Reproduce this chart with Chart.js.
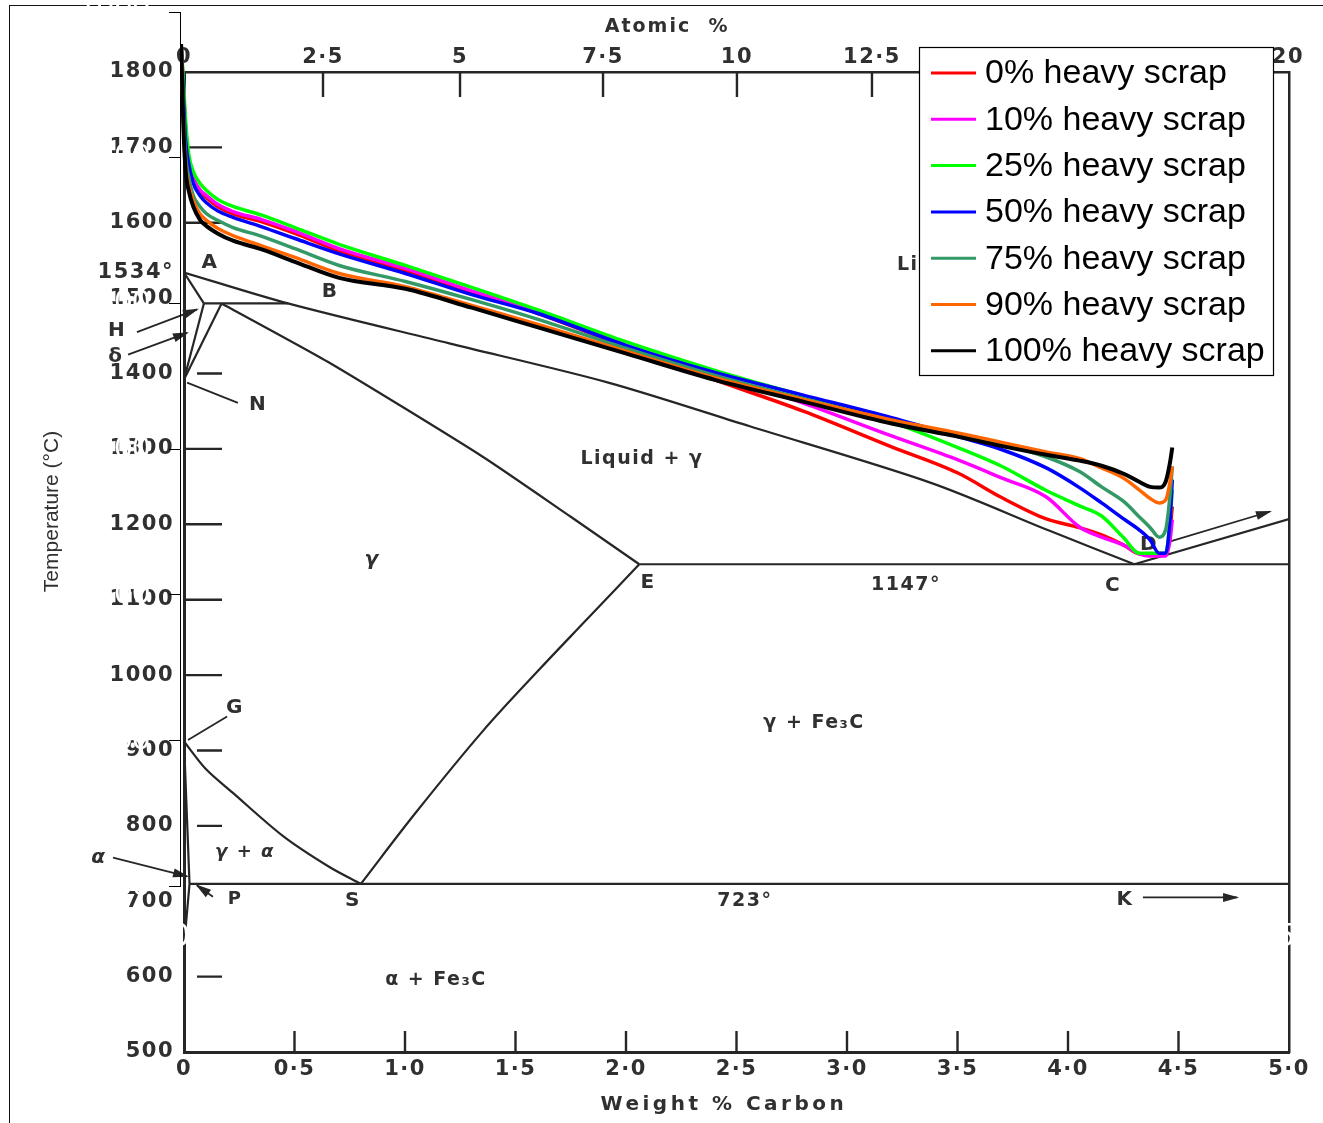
<!DOCTYPE html>
<html lang="en">
<head>
<meta charset="utf-8">
<title>Fe–C diagram with heavy scrap paths</title>
<script src="https://cdn.jsdelivr.net/npm/chart.js@4.4.1/dist/chart.umd.min.js"></script>
<style>
  html, body { margin: 0; padding: 0; background: #ffffff; }
  #wrap { position: relative; width: 1323px; height: 1123px; overflow: hidden; }
  #frame { position: absolute; left: 9px; top: 5px; width: 1400px; height: 1300px; border: 1px solid #111; }
  canvas { position: absolute; left: 0; top: 0; }
</style>
</head>
<body>
<div id="wrap">
  <div id="frame"></div>
  <canvas id="diagram" width="1323" height="1123"></canvas>
  <canvas id="scrap" width="1323" height="1123"></canvas>
</div>
<script>
// ---------- Fe–C equilibrium diagram (weight % carbon, °C) ----------
const weightTicks = [0, 0.5, 1, 1.5, 2, 2.5, 3, 3.5, 4, 4.5, 5];
const tempTicks = [500, 600, 700, 800, 900, 1000, 1100, 1200, 1300, 1400, 1500, 1534, 1600, 1700, 1800];
const atomicLabels = ['0', '2·5', '5', '7·5', '10', '12·5', '15', '17·5', '20'];
const atomicAtWeight = [0, 0.629, 1.249, 1.896, 2.502, 3.113, 3.72, 4.35, 4.995];
const tempMarksLong = [1000, 1100, 1200, 1300, 1600, 1700];
const tempMarksShort = [600, 800, 900, 1400];

const liquidusC = [0, 0.47, 1.2, 1.92, 2.56, 3.38, 3.92, 4.3];
const liquidusT = [1534, 1493, 1440, 1388, 1330, 1255, 1191, 1147];
const deltaSolidusC = [0, 0.09];        const deltaSolidusT = [1534, 1493];
const peritecticC = [0.09, 0.47];       const peritecticT = [1493, 1493];
const deltaNHC = [0, 0.09];             const deltaNHT = [1392, 1493];
const deltaNJC = [0, 0.17];             const deltaNJT = [1392, 1493];
const gammaSolidusC = [0.17, 0.66, 1.35, 1.75, 2.06];
const gammaSolidusT = [1493, 1414, 1290, 1210, 1147];
const eutecticC = [2.06, 5];            const eutecticT = [1147, 1147];
const cementiteLiqC = [4.3, 5];         const cementiteLiqT = [1147, 1207];
const eutectoidC = [0.025, 5];          const eutectoidT = [723, 723];
const a3C = [0, 0.1, 0.22, 0.45, 0.66, 0.8];
const a3T = [912, 875, 844, 786, 745, 723];
const acmC = [0.8, 1.05, 1.35, 1.6, 1.82, 2.06];
const acmT = [723, 818, 925, 1005, 1073, 1147];
const ferriteGPC = [0, 0.025];          const ferriteGPT = [912, 723];
const ferritePQC = [0.025, 0];          const ferritePQT = [723, 640];

// leader lines for the point letters
const leaderH = [[-0.213, 1455], [0.059, 1485]];
const leaderDelta = [[-0.253, 1425], [0.014, 1454]];
const leaderN = [[0.014, 1388], [0.244, 1361]];
const leaderG = [[0.018, 914], [0.195, 945]];
const leaderAlpha = [[-0.321, 758], [0.014, 733]];
const leaderP = [[0.131, 706], [0.059, 721]];
const leaderK = [[4.339, 705], [4.765, 705]];
const leaderD = [[4.448, 1176], [4.914, 1217]];

// ---------- cooling paths for the scrap mixes (wt % C, °C) ----------
const carbonGrid = [0.005, 0.015, 0.025, 0.04, 0.06, 0.09, 0.12, 0.17, 0.24, 0.37, 0.52, 0.72, 1.02, 1.32, 1.62,
  2.02, 2.42, 2.82, 3.22, 3.52, 3.72, 3.92, 4.07, 4.17, 4.27, 4.34, 4.39, 4.43, 4.46, 4.48, 4.49];
const scrapLabels = ['0% heavy scrap', '10% heavy scrap', '25% heavy scrap', '50% heavy scrap',
  '75% heavy scrap', '90% heavy scrap', '100% heavy scrap'];
const scrap0 = [1856, 1797, 1739, 1695, 1670, 1654, 1645, 1633, 1623, 1612, 1596, 1572, 1545, 1515, 1486,
  1440, 1395, 1352, 1303, 1267, 1233, 1204, 1192, 1182, 1168, 1156, 1155, 1155, 1155, 1189, 1221];
const scrap10 = [1856, 1801, 1742, 1698, 1673, 1656, 1648, 1636, 1626, 1615, 1599, 1575, 1548, 1517, 1489,
  1442, 1403, 1363, 1318, 1285, 1260, 1234, 1193, 1179, 1168, 1156, 1153, 1153, 1153, 1175, 1203];
const scrap25 = [1856, 1808, 1753, 1704, 1681, 1665, 1655, 1643, 1633, 1621, 1604, 1581, 1552, 1522, 1491,
  1447, 1408, 1373, 1337, 1302, 1276, 1243, 1222, 1208, 1178, 1157, 1157, 1157, 1157, 1203, 1244];
const scrap50 = [1856, 1787, 1725, 1691, 1665, 1648, 1638, 1627, 1618, 1605, 1589, 1568, 1541, 1512, 1486,
  1442, 1405, 1374, 1343, 1317, 1299, 1274, 1247, 1226, 1204, 1189, 1175, 1157, 1157, 1203, 1258];
const scrap75 = [1856, 1766, 1704, 1673, 1648, 1633, 1623, 1614, 1604, 1592, 1575, 1552, 1530, 1505, 1478,
  1438, 1401, 1369, 1339, 1321, 1307, 1289, 1269, 1248, 1228, 1207, 1192, 1179, 1189, 1237, 1276];
const scrap90 = [1856, 1753, 1691, 1662, 1641, 1623, 1614, 1603, 1593, 1579, 1563, 1541, 1523, 1497, 1471,
  1434, 1398, 1368, 1340, 1322, 1309, 1296, 1287, 1274, 1260, 1244, 1232, 1226, 1230, 1255, 1276];
const scrap100 = [1856, 1746, 1684, 1654, 1633, 1615, 1606, 1596, 1586, 1574, 1557, 1535, 1520, 1494, 1467,
  1431, 1395, 1365, 1335, 1317, 1304, 1292, 1284, 1277, 1266, 1255, 1248, 1247, 1255, 1282, 1302];
const scrapSeries = [scrap0, scrap10, scrap25, scrap50, scrap75, scrap90, scrap100];
const scrapColors = ['#ff0000', '#ff00ff', '#00ff00', '#0000ff', '#339966', '#ff6600', '#000000'];

// ---------- helpers ----------
const toPts = (xs, ys) => xs.map((x, i) => ({ x, y: ys[i] }));
const INK = '#262626';
const TEXT = '#303030';
const DFONT = '"DejaVu Sans", sans-serif';
const SANS = '"Liberation Sans", Arial, sans-serif';

const phase = (c, t, tension = 0) => ({
  data: toPts(c, t), borderColor: INK, borderWidth: 2.2, tension,
  showLine: true, pointRadius: 0, pointHoverRadius: 0
});
const leader = (pairs, arrowHead) => ({
  data: pairs.map(([x, y]) => ({ x, y })), borderColor: INK, borderWidth: 1.8,
  showLine: true, pointRadius: 0, pointHoverRadius: 0, clip: false, arrowHead
});

// draws inward tick marks, arrowheads, region labels and axis titles of the diagram
const diagramDecor = {
  id: 'diagramDecor',
  beforeDraw(chart, args, o) { chart.ctx.letterSpacing = o.spacing; },
  afterDatasetsDraw(chart, args, o) {
    const ctx = chart.ctx;
    chart.data.datasets.forEach((ds, i) => {
      if (!ds.arrowHead) return;
      const pts = chart.getDatasetMeta(i).data;
      const a = pts[pts.length - 2], b = pts[pts.length - 1];
      ctx.save();
      ctx.translate(b.x, b.y);
      ctx.rotate(Math.atan2(b.y - a.y, b.x - a.x));
      ctx.fillStyle = INK;
      ctx.beginPath();
      ctx.moveTo(2, 0); ctx.lineTo(-14, -4.5); ctx.lineTo(-14, 4.5); ctx.closePath();
      ctx.fill();
      ctx.restore();
    });
  },
  afterDraw(chart, args, o) {
    const { ctx, chartArea, scales: { x, y, xTop } } = chart;
    ctx.save();
    ctx.strokeStyle = INK;
    ctx.lineWidth = 2.4;
    ctx.beginPath();
    weightTicks.forEach(v => {
      if (v <= x.min || v >= x.max) return;
      const px = x.getPixelForValue(v);
      ctx.moveTo(px, chartArea.bottom); ctx.lineTo(px, chartArea.bottom - o.bottomTick);
    });
    atomicAtWeight.forEach((v, i) => {
      if (i === 0 || i === atomicAtWeight.length - 1) return;
      const px = xTop.getPixelForValue(v);
      ctx.moveTo(px, chartArea.top); ctx.lineTo(px, chartArea.top + o.topTick);
    });
    const x0 = x.getPixelForValue(0);
    tempMarksLong.forEach(t => {
      const py = y.getPixelForValue(t);
      ctx.moveTo(x0 + 1, py); ctx.lineTo(x0 + o.dashEnd, py);
    });
    tempMarksShort.forEach(t => {
      const py = y.getPixelForValue(t);
      ctx.moveTo(x0 + o.shortStart, py); ctx.lineTo(x0 + o.dashEnd, py);
    });
    ctx.stroke();

    ctx.fillStyle = TEXT;
    ctx.textBaseline = 'middle';
    o.labels.forEach(l => {
      ctx.letterSpacing = l.spacing || o.spacing;
      ctx.font = `${l.italic ? 'italic ' : ''}bold ${l.size || o.size}px ${DFONT}`;
      ctx.textAlign = l.align || 'center';
      ctx.fillText(l.text, x.getPixelForValue(l.c), y.getPixelForValue(l.t));
    });

    const yt = o.yTitle;
    ctx.letterSpacing = '0px';
    ctx.font = `${yt.size}px ${SANS}`;
    ctx.textAlign = 'center';
    ctx.translate(x.getPixelForValue(yt.c), y.getPixelForValue(yt.t));
    ctx.rotate(-Math.PI / 2);
    ctx.fillText(yt.text, 0, 0);
    ctx.restore();
    ctx.letterSpacing = '0px';
  }
};

const tickFont = { family: DFONT, size: 21, weight: 'bold' };

new Chart(document.getElementById('diagram'), {
  type: 'scatter',
  data: {
    datasets: [
      phase(liquidusC, liquidusT, 0.3),
      phase(deltaSolidusC, deltaSolidusT),
      phase(peritecticC, peritecticT),
      phase(deltaNHC, deltaNHT),
      phase(deltaNJC, deltaNJT),
      phase(gammaSolidusC, gammaSolidusT, 0.2),
      phase(eutecticC, eutecticT),
      phase(cementiteLiqC, cementiteLiqT),
      phase(eutectoidC, eutectoidT),
      phase(a3C, a3T, 0.3),
      phase(acmC, acmT, 0.35),
      phase(ferriteGPC, ferriteGPT),
      phase(ferritePQC, ferritePQT),
      leader(leaderH, true),
      leader(leaderDelta, true),
      leader(leaderN, false),
      leader(leaderG, false),
      leader(leaderAlpha, true),
      leader(leaderP, true),
      leader(leaderK, true),
      leader(leaderD, true)
    ]
  },
  options: {
    responsive: false,
    animation: false,
    events: [],
    layout: { padding: { left: 0, right: 34, top: 0, bottom: 0 }, autoPadding: false },
    plugins: {
      legend: { display: false },
      tooltip: { enabled: false },
      diagramDecor: {
        spacing: '1.5px', size: 20, bottomTick: 21, topTick: 25, dashEnd: 38, shortStart: 13,
        labels: [
          { text: 'A', c: 0.118, t: 1547 },
          { text: 'B', c: 0.661, t: 1508 },
          { text: 'H', c: -0.303, t: 1457 },
          { text: 'δ', c: -0.308, t: 1422 },
          { text: 'N', c: 0.335, t: 1359 },
          { text: 'Liquid + γ', c: 2.072, t: 1286, size: 19 },
          { text: 'Liquid', c: 3.226, t: 1544, align: 'left', size: 19 },
          { text: 'γ', c: 0.851, t: 1153, italic: true },
          { text: 'E', c: 2.10, t: 1122 },
          { text: '1147°', c: 3.267, t: 1120, size: 19 },
          { text: 'C', c: 4.204, t: 1119 },
          { text: 'D', c: 4.367, t: 1173 },
          { text: 'γ + Fe₃C', c: 2.851, t: 937, size: 19 },
          { text: 'G', c: 0.231, t: 957 },
          { text: 'γ + α', c: 0.276, t: 765, size: 18, italic: true },
          { text: 'α', c: -0.385, t: 758, italic: true },
          { text: 'P', c: 0.231, t: 702, size: 18 },
          { text: 'S', c: 0.765, t: 700 },
          { text: '723°', c: 2.538, t: 700, size: 19 },
          { text: 'K', c: 4.258, t: 702 },
          { text: 'α + Fe₃C', c: 1.140, t: 596, size: 19 },
          { text: 'Atomic  %', c: 2.186, t: 1860, size: 19, spacing: '2px' },
          { text: 'Weight % Carbon', c: 2.443, t: 430, size: 20, spacing: '3.5px' }
        ],
        yTitle: { text: 'Temperature (°C)', c: -0.597, t: 1217, size: 21 }
      }
    },
    scales: {
      x: {
        type: 'linear', position: 'bottom', min: 0, max: 5,
        afterBuildTicks(s) { s.ticks = weightTicks.map(value => ({ value })); },
        ticks: {
          autoSkip: false, maxRotation: 0, padding: 5, color: TEXT, font: tickFont,
          callback: v => (v === 0 ? '0' : v.toFixed(1).replace('.', '·'))
        },
        grid: { display: false, drawTicks: false },
        border: { display: true, color: INK, width: 3 },
        afterFit(s) { s.height = 71; s.paddingLeft = 0; s.paddingRight = 0; }
      },
      xTop: {
        type: 'linear', position: 'top', min: 0, max: 5,
        afterBuildTicks(s) { s.ticks = atomicAtWeight.map(value => ({ value })); },
        ticks: {
          autoSkip: false, maxRotation: 0, padding: 2, color: TEXT, font: tickFont,
          callback: (v, i) => atomicLabels[i]
        },
        grid: { display: false, drawTicks: false },
        border: { display: true, color: INK, width: 2.5 },
        afterFit(s) { s.height = 72; s.paddingLeft = 0; s.paddingRight = 0; }
      },
      y: {
        type: 'linear', position: 'left', min: 500, max: 1800,
        afterBuildTicks(s) { s.ticks = tempTicks.map(value => ({ value })); },
        ticks: {
          autoSkip: false, padding: 10, color: TEXT, font: tickFont,
          callback: v => (v === 1534 ? '1534°' : String(v))
        },
        grid: { display: false, drawTicks: false },
        border: { display: true, color: INK, width: 3 },
        afterFit(s) { s.width = 184; s.paddingTop = 0; s.paddingBottom = 0; }
      },
      yRight: {
        type: 'linear', position: 'right', min: 500, max: 1800,
        ticks: { display: false },
        grid: { display: false, drawTicks: false },
        border: { display: true, color: INK, width: 2.5 },
        afterFit(s) { s.width = 0; s.paddingTop = 0; s.paddingBottom = 0; }
      }
    }
  },
  plugins: [diagramDecor]
});

// ---------- scrap-mix chart with its own axes and boxed legend ----------
const scrapLegend = {
  id: 'scrapLegend',
  afterDraw(chart, args, o) {
    const ctx = chart.ctx;
    ctx.save();
    ctx.fillStyle = '#ffffff';
    ctx.fillRect(o.left, o.top, o.width, o.height);
    ctx.strokeStyle = '#000000';
    ctx.lineWidth = 1.2;
    ctx.strokeRect(o.left + 0.5, o.top + 0.5, o.width, o.height);
    ctx.font = o.font;
    ctx.textAlign = 'left';
    ctx.textBaseline = 'middle';
    chart.data.datasets.forEach((ds, i) => {
      const yy = o.top + o.rowStart + i * o.rowStep;
      ctx.strokeStyle = ds.borderColor;
      ctx.lineWidth = 3;
      ctx.beginPath();
      ctx.moveTo(o.left + o.swatchX, yy);
      ctx.lineTo(o.left + o.swatchX + o.swatchLen, yy);
      ctx.stroke();
      ctx.fillStyle = '#000000';
      ctx.fillText(ds.label, o.left + o.textX, yy + 1);
    });
    ctx.restore();
  }
};

new Chart(document.getElementById('scrap'), {
  type: 'scatter',
  data: {
    datasets: scrapSeries.map((t, i) => ({
      label: scrapLabels[i],
      data: toPts(carbonGrid, t),
      borderColor: scrapColors[i],
      backgroundColor: scrapColors[i],
      borderWidth: i === scrapSeries.length - 1 ? 4 : 3.5,
      showLine: true,
      pointRadius: 0,
      pointHoverRadius: 0,
      cubicInterpolationMode: 'monotone',
      order: scrapSeries.length - 1 - i
    }))
  },
  options: {
    responsive: false,
    animation: false,
    events: [],
    layout: { padding: { left: 9, right: 38, top: 12, bottom: 0 }, autoPadding: false },
    plugins: {
      legend: { display: false },
      tooltip: { enabled: false },
      scrapLegend: {
        left: 919, top: 47, width: 354, height: 328,
        rowStart: 26, rowStep: 46.3, swatchX: 12, swatchLen: 45, textX: 66,
        font: `34px ${SANS}`
      }
    },
    scales: {
      x: {
        type: 'linear', min: 0, max: 5,
        ticks: {
          stepSize: 1, color: '#ffffff', font: { family: SANS, size: 34 }, padding: 30, maxRotation: 0, autoSkip: false,
          callback: v => String(v)
        },
        grid: { display: false, drawTicks: false },
        border: { display: false },
        afterFit(s) { s.height = 237; s.paddingLeft = 0; s.paddingRight = 0; }
      },
      y: {
        type: 'linear', min: 700, max: 1900,
        ticks: { stepSize: 200, color: '#ffffff', font: { family: SANS, size: 32 }, padding: 19, callback: v => String(v) },
        grid: { display: true, drawOnChartArea: false, drawTicks: true, tickLength: 11, color: '#000000', tickColor: '#000000', tickWidth: 1, lineWidth: 1 },
        border: { display: true, color: '#000000', width: 1 },
        afterFit(s) { s.width = 171; s.paddingTop = 0; s.paddingBottom = 0; }
      }
    }
  },
  plugins: [scrapLegend]
});
</script>
</body>
</html>
